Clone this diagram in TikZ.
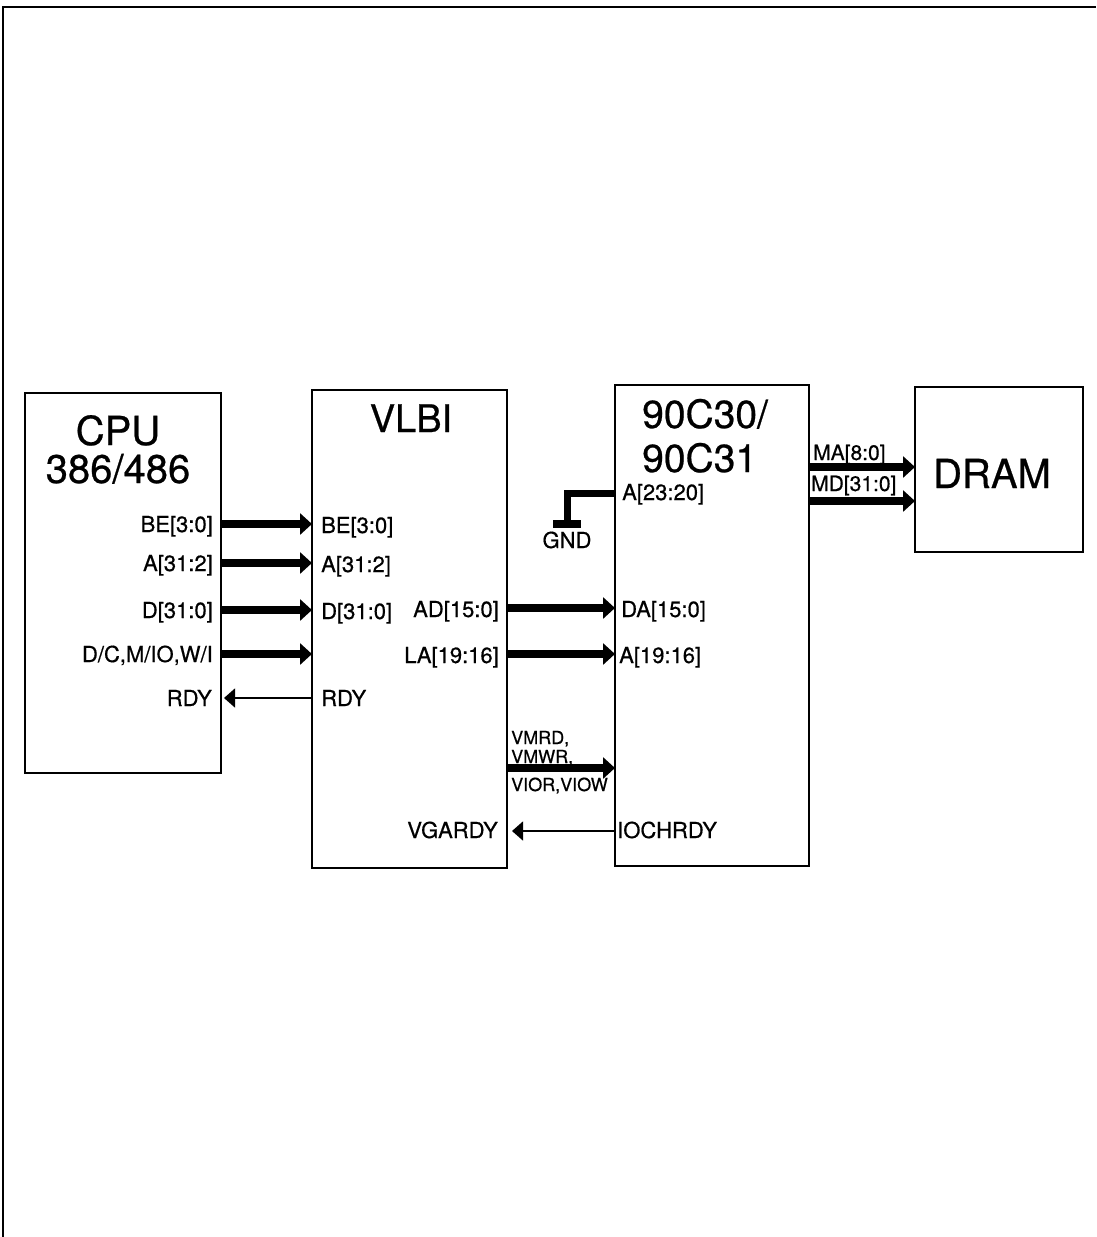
\documentclass[tikz,border=0pt]{standalone}
\usepackage{fontspec}
\setmainfont{TeX Gyre Heros}[FakeBold=0.6]
\usetikzlibrary{arrows.meta}
\tikzset{
  x=1pt, y=-1pt,
  blk/.style={draw, line width=1.5pt, minimum width=#1, outer sep=0pt, inner sep=0pt},
  bus/.style={line width=8pt, -{Triangle[length=12pt,width=21pt]}},
  thick bar/.style={line width=7pt},
  sig/.style={line width=1.5pt, -{Triangle[length=11pt,width=19pt]}},
  title/.style={font=\fontsize{40}{40}\selectfont, inner sep=0pt},
  lbl/.style={font=\fontsize{22}{22}\selectfont, inner sep=0pt},
  mlbl/.style={font=\fontsize{21}{21}\selectfont, inner sep=0pt},
  slbl/.style={font=\fontsize{18}{18}\selectfont, inner sep=0pt},
}
\begin{document}
\begin{tikzpicture}
\useasboundingbox (0,0) rectangle (1096,1237);
% frame
\draw[line width=2pt] (3,1237) -- (3,7) -- (1096,7);
% blocks
\node[blk=196pt, minimum height=380pt] (cpu) at (123,583) {};
\node[blk=195pt, minimum height=478pt] (vlbi) at (409.5,629) {};
\node[blk=194pt, minimum height=481pt] (vga) at (712,625.5) {};
\node[blk=168pt, minimum height=165pt] (dram) at (999,469.5) {};
% titles
\node[title, anchor=base] (cput) at (118,445) {CPU};
\node[title, anchor=base] (cput2) at (118,483) {386/486};
\node[title, anchor=base, font=\fontsize{38}{38}\selectfont] (vlbit) at (411,432) {VLBI};
\node[title, anchor=base west, font=\fontsize{39}{39}\selectfont] (vgat) at (642,428) {90C30/};
\node[title, anchor=base west, font=\fontsize{39}{39}\selectfont] (vgat2) at (642,472) {90C31};
\node[title, anchor=base] (dramt) at (992,488) {DRAM};
% CPU <-> VLBI
\draw[bus] (cpu.east |- 0,524) -- (vlbi.west |- 0,524);
\draw[bus] (cpu.east |- 0,563) -- (vlbi.west |- 0,563);
\draw[bus] (cpu.east |- 0,610) -- (vlbi.west |- 0,610);
\draw[bus] (cpu.east |- 0,654) -- (vlbi.west |- 0,654);
\draw[sig] (vlbi.west |- 0,698) -- ([xshift=3pt]cpu.east |- 0,698);
\node[lbl, anchor=base east] (c1) at (213,532) {BE[3:0]};
\node[lbl, anchor=base east] (c2) at (213,571) {A[31:2]};
\node[lbl, anchor=base east] (c3) at (213,618) {D[31:0]};
\node[lbl, anchor=base east] (c4) at (213,662) {D/C,M/IO,W/I};
\node[lbl, anchor=base east] (c5) at (212,706) {RDY};
\node[lbl, anchor=base west] (v1) at (321,533) {BE[3:0]};
\node[lbl, anchor=base west] (v2) at (321,572) {A[31:2]};
\node[lbl, anchor=base west] (v3) at (321,619) {D[31:0]};
\node[lbl, anchor=base west] (v5) at (321,706) {RDY};
% VLBI <-> 90C30
\node[lbl, anchor=base east] (v6) at (499,617) {AD[15:0]};
\node[lbl, anchor=base east] (v7) at (499,663) {LA[19:16]};
\node[lbl, anchor=base east] (v8) at (498,838) {VGARDY};
\node[slbl, anchor=base west] (v9) at (511,744) {VMRD,};
\node[slbl, anchor=base west] (v10) at (511,763) {VMWR,};
\node[slbl, anchor=base west] (v11) at (511,791) {VIOR,VIOW};
\draw[bus] (vlbi.east |- 0,608) -- (vga.west |- 0,608);
\draw[bus] (vlbi.east |- 0,654) -- (vga.west |- 0,654);
\draw[bus] (vlbi.east |- 0,768) -- (vga.west |- 0,768);
\draw[sig] (vga.west |- 0,831) -- ([xshift=5pt]vlbi.east |- 0,831);
\node[lbl, anchor=base west] (g1) at (622,500) {A[23:20]};
\node[lbl, anchor=base west] (g2) at (621,617) {DA[15:0]};
\node[lbl, anchor=base west] (g3) at (619,663) {A[19:16]};
\node[lbl, anchor=base west] (g4) at (617,838) {IOCHRDY};
% GND
\coordinate (gndc) at (567,524);
\draw[thick bar] (vga.west |- 0,493) -- (gndc |- 0,493) -- (gndc);
\draw[line width=8pt] ([xshift=-14pt]gndc) -- ([xshift=14pt]gndc);
\node[lbl, anchor=base] (gnd) at (567,548) {GND};
% 90C30 -> DRAM
\node[mlbl, anchor=base west] (m1) at (813,460) {MA[8:0]};
\node[mlbl, anchor=base west] (m2) at (811,491) {MD[31:0]};
\draw[bus] (vga.east |- 0,467) -- (dram.west |- 0,467);
\draw[bus] (vga.east |- 0,501) -- (dram.west |- 0,501);
\end{tikzpicture}
\end{document}
